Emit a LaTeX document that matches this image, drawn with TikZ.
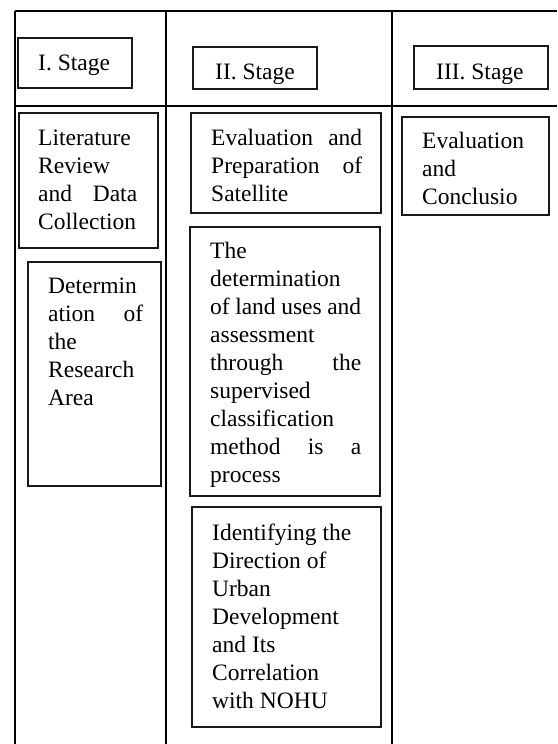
\documentclass[tikz,border=0pt]{standalone}
\usepackage{fontspec}
\setmainfont{Liberation Serif}
\usetikzlibrary{fit}

\begin{document}
\begin{tikzpicture}[x=1pt, y=-1pt,
  grid/.style={line width=2pt, black},
  tbox/.style={draw=black!90, line width=1.3pt, inner sep=0pt, fill=none},
  txt/.style={inner sep=0pt, anchor=base west, text=black,
    font=\fontsize{23.5}{28}\selectfont}]

\useasboundingbox (0,0) rectangle (557,744);

% table rules
\draw[grid] (15,10.5) -- (557,10.5);
\draw[grid] (15,106) -- (557,106);
\draw[grid] (15,10.5) -- (15,744);
\draw[grid] (165.5,10.5) -- (165.5,744);
\draw[grid] (392,10.5) -- (392,744);

% stage headers
\node[tbox, fit={(18,38) (132,88)}] (s1) {};
\node[txt] (s1t) at (38,70) {I. Stage};

\node[tbox, fit={(193,47) (317,89)}] (s2) {};
\begin{scope}
  \clip (193,47) rectangle (317,83);
  \node[txt] (s2t) at (215,79) {II. Stage};
\end{scope}

\node[tbox, fit={(414,46) (548,89)}] (s3) {};
\begin{scope}
  \clip (414,46) rectangle (548,83);
  \node[txt] (s3t) at (436,79) {III. Stage};
\end{scope}

% stage I
\node[tbox, fit={(19,113) (158,248)}] (lit) {};
\node[txt] (litt) at (38,145) {\parbox[t]{99pt}{\raggedright
  Literature\\Review\\and\hfill Data\\Collection}};

\node[tbox, fit={(28,262) (161,486)}] (det) {};
\node[txt] (dett) at (48,293) {\parbox[t]{95pt}{\raggedright
  Determin\\ation\hfill of\\the\\Research\\Area}};

% stage II
\node[tbox, fit={(191,113) (381,213)}] (evp) {};
\node[txt] (evpt) at (211,145) {\parbox[t]{151pt}{\raggedright
  Evaluation\hfill and\\Preparation\hfill of\\Satellite}};

\node[tbox, fit={(190,227) (380,496)}] (lu) {};
\node[txt] (lut) at (210,258) {\parbox[t]{151pt}{\raggedright
  The\\determination\\of land uses and\\assessment\\through\hfill the\\supervised\\classification\\method\hfill is\hfill a\\process}};

\node[tbox, fit={(192,507) (381,727)}] (ide) {};
\node[txt] (idet) at (212,540) {\parbox[t]{165pt}{\raggedright
  Identifying the\\Direction of\\Urban\\Development\\and Its\\Correlation\\with NOHU}};

% stage III
\node[tbox, fit={(402,117) (549,215)}] (evc) {};
\node[txt] (evct) at (422,148) {\parbox[t]{125pt}{\raggedright
  Evaluation\\and\\Conclusio}};

\end{tikzpicture}
\end{document}
